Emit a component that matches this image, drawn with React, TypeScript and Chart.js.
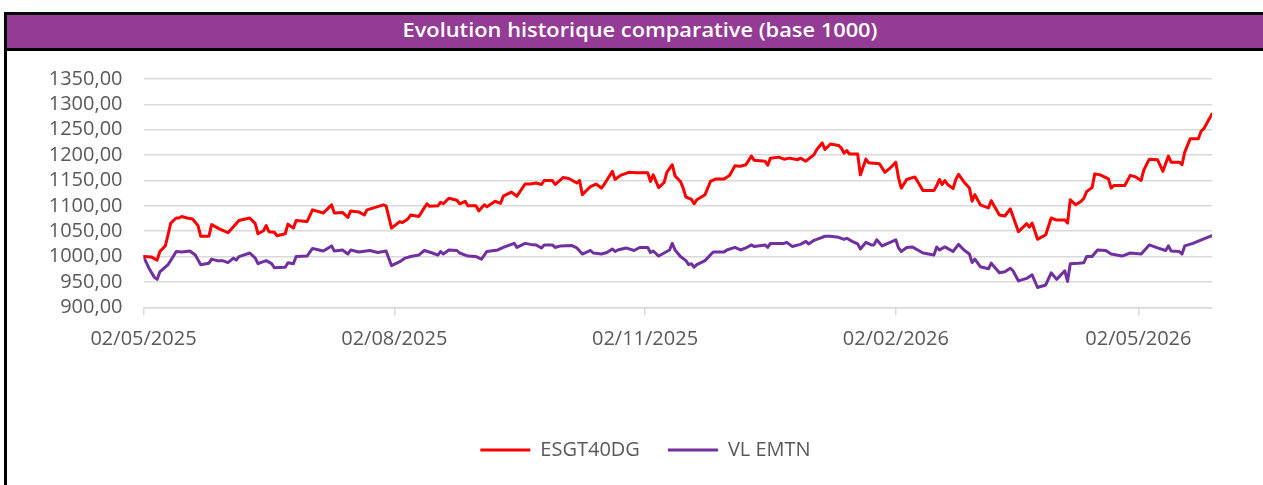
import React, { useEffect, useRef } from "react";
import { Chart, registerables } from "chart.js";

Chart.register(...registerables);

const TITLE = "Evolution historique comparative (base 1000)";
const seriesNames = ["ESGT40DG", "VL EMTN"];

// x axis: days since 02/05/2025
const axisMaxDay = 392;
const tickDays = [0, 92, 184, 276, 365];
const tickLabels = ["02/05/2025", "02/08/2025", "02/11/2025", "02/02/2026", "02/05/2026"];

const yTicksMin = 900;
const yTicksMax = 1350;
const yTicksStep = 50;

const esgDays = [0, 3, 5, 6, 8, 9, 10, 12, 13, 14, 16, 18, 20, 21, 24, 25, 28, 31, 33, 35, 39, 41, 42, 44, 45, 46, 48, 49, 52, 53, 55, 56, 60, 62, 66, 69, 70, 73, 75, 76, 79, 81, 82, 85, 88, 89, 91, 94, 95, 97, 98, 101, 103, 104, 105, 108, 109, 110, 112, 115, 116, 118, 119, 122, 123, 125, 126, 129, 131, 132, 135, 137, 140, 142, 144, 146, 147, 150, 151, 154, 156, 159, 160, 161, 164, 166, 168, 169, 172, 173, 175, 178, 181, 185, 186, 187, 189, 191, 192, 194, 195, 197, 198, 199, 201, 202, 203, 206, 208, 210, 213, 215, 217, 219, 221, 223, 224, 228, 229, 230, 233, 235, 237, 240, 241, 243, 246, 247, 249, 250, 252, 255, 256, 257, 258, 259, 262, 263, 265, 266, 270, 272, 274, 276, 277, 278, 280, 283, 284, 286, 290, 291, 292, 293, 294, 295, 297, 298, 299, 301, 303, 304, 305, 307, 310, 311, 314, 316, 318, 321, 324, 325, 326, 328, 331, 333, 335, 338, 339, 340, 342, 344, 345, 346, 348, 349, 351, 354, 355, 356, 360, 362, 364, 366, 367, 369, 372, 374, 376, 377, 380, 381, 382, 384, 387, 388, 389, 392];
const esgValues = [1000, 999, 993, 1010, 1021, 1043, 1066, 1076, 1076, 1079, 1076, 1074, 1061, 1040, 1040, 1063, 1054, 1047, 1059, 1071, 1076, 1065, 1045, 1051, 1061, 1049, 1048, 1041, 1045, 1064, 1056, 1071, 1069, 1092, 1086, 1102, 1086, 1087, 1077, 1090, 1088, 1082, 1092, 1097, 1102, 1100, 1056, 1069, 1067, 1074, 1082, 1079, 1096, 1104, 1099, 1100, 1107, 1104, 1115, 1111, 1104, 1109, 1100, 1100, 1090, 1102, 1098, 1109, 1105, 1119, 1127, 1119, 1143, 1143, 1145, 1142, 1150, 1150, 1142, 1156, 1154, 1145, 1150, 1122, 1138, 1143, 1135, 1142, 1168, 1152, 1160, 1166, 1165, 1165, 1148, 1161, 1136, 1146, 1166, 1181, 1159, 1148, 1135, 1117, 1113, 1104, 1112, 1122, 1148, 1153, 1153, 1160, 1179, 1178, 1181, 1198, 1190, 1188, 1180, 1194, 1196, 1192, 1194, 1191, 1194, 1188, 1201, 1211, 1224, 1211, 1222, 1219, 1214, 1204, 1209, 1202, 1202, 1161, 1192, 1185, 1183, 1166, 1175, 1186, 1155, 1135, 1152, 1157, 1148, 1130, 1130, 1140, 1152, 1142, 1150, 1142, 1134, 1152, 1162, 1147, 1135, 1109, 1122, 1102, 1096, 1110, 1082, 1080, 1094, 1049, 1065, 1058, 1066, 1034, 1043, 1076, 1072, 1072, 1066, 1112, 1102, 1109, 1115, 1128, 1136, 1163, 1161, 1153, 1135, 1140, 1140, 1160, 1157, 1150, 1171, 1192, 1191, 1168, 1198, 1186, 1186, 1181, 1206, 1232, 1232, 1247, 1252, 1281];

const vlDays = [0, 2, 4, 5, 6, 9, 11, 12, 14, 17, 19, 21, 24, 25, 27, 29, 31, 33, 34, 35, 39, 41, 42, 45, 47, 48, 52, 53, 55, 56, 60, 62, 66, 69, 70, 73, 75, 76, 79, 83, 86, 89, 91, 94, 96, 98, 101, 103, 106, 108, 109, 110, 112, 115, 116, 119, 122, 124, 126, 130, 132, 136, 137, 140, 142, 144, 146, 147, 150, 151, 153, 157, 159, 161, 164, 165, 168, 170, 172, 173, 174, 177, 180, 182, 185, 186, 187, 189, 191, 193, 194, 195, 197, 199, 200, 201, 202, 203, 206, 209, 213, 214, 217, 219, 221, 223, 224, 228, 229, 230, 235, 236, 238, 241, 243, 244, 246, 248, 250, 252, 255, 257, 258, 260, 262, 263, 265, 267, 268, 269, 271, 276, 277, 278, 280, 282, 286, 290, 291, 292, 294, 297, 299, 301, 303, 304, 305, 307, 310, 311, 314, 316, 318, 319, 321, 324, 326, 328, 331, 333, 335, 338, 339, 340, 343, 345, 346, 348, 350, 353, 355, 359, 362, 366, 369, 372, 375, 376, 377, 380, 381, 382, 385, 389, 392];
const vlValues = [1000, 977, 959, 955, 970, 984, 1001, 1010, 1009, 1011, 1003, 984, 987, 995, 992, 992, 988, 997, 993, 1000, 1007, 997, 986, 992, 986, 978, 979, 988, 986, 1000, 1001, 1016, 1011, 1021, 1011, 1013, 1005, 1013, 1009, 1012, 1008, 1011, 982, 990, 997, 1000, 1003, 1012, 1007, 1003, 1010, 1005, 1013, 1012, 1007, 1001, 1000, 995, 1010, 1013, 1018, 1026, 1018, 1026, 1024, 1023, 1017, 1023, 1023, 1018, 1021, 1022, 1017, 1005, 1012, 1007, 1005, 1008, 1015, 1010, 1013, 1017, 1012, 1018, 1018, 1008, 1011, 1001, 1007, 1013, 1026, 1013, 1000, 992, 984, 986, 979, 984, 992, 1009, 1009, 1013, 1018, 1013, 1017, 1023, 1020, 1023, 1018, 1026, 1026, 1028, 1020, 1024, 1030, 1025, 1032, 1036, 1040, 1040, 1038, 1034, 1036, 1030, 1025, 1015, 1028, 1023, 1023, 1033, 1021, 1033, 1017, 1010, 1018, 1019, 1007, 1003, 1019, 1013, 1019, 1010, 1024, 1013, 1005, 988, 995, 980, 976, 987, 968, 970, 977, 972, 952, 957, 964, 939, 944, 968, 955, 972, 951, 986, 987, 988, 1000, 1000, 1013, 1012, 1005, 1001, 1007, 1005, 1023, 1017, 1012, 1021, 1011, 1010, 1005, 1021, 1026, 1035, 1041];

const FONT = '"Open Sans", "DejaVu Sans", sans-serif';
const TEXT_COLOR = "#595959";
const GRID_COLOR = "#D9D9D9";

function measureText(text: string, font: string): number {
  const c = document.createElement("canvas").getContext("2d");
  if (!c) return 1;
  c.font = font;
  return c.measureText(text).width || 1;
}

export default function App() {
  const canvasRef = useRef<HTMLCanvasElement>(null);

  useEffect(() => {
    if (!canvasRef.current) return;
    const chart = new Chart(canvasRef.current, {
      type: "line",
      data: {
        datasets: [
          {
            label: seriesNames[0],
            data: esgDays.map((d, i) => ({ x: d, y: esgValues[i] })),
            borderColor: "#FF0000",
            backgroundColor: "#FF0000",
            borderWidth: 3,
            pointRadius: 0,
            tension: 0,
            borderJoinStyle: "round",
            borderCapStyle: "round",
          },
          {
            label: seriesNames[1],
            data: vlDays.map((d, i) => ({ x: d, y: vlValues[i] })),
            borderColor: "#7030A0",
            backgroundColor: "#7030A0",
            borderWidth: 3,
            pointRadius: 0,
            tension: 0,
            borderJoinStyle: "round",
            borderCapStyle: "round",
          },
        ],
      },
      options: {
        responsive: false,
        animation: false,
        events: [],
        layout: { padding: { top: 28, left: 0, right: 0, bottom: 15 } },
        plugins: {
          tooltip: { enabled: false },
          legend: {
            position: "bottom",
            labels: {
              boxWidth: 50,
              boxHeight: 3,
              padding: 28,
              color: TEXT_COLOR,
              font: { family: FONT, size: 20 },
              generateLabels: (ch: any) => {
                const items = Chart.defaults.plugins.legend.labels.generateLabels(ch);
                return items.map((it: any) => ({
                  ...it,
                  fillStyle: it.strokeStyle,
                  lineWidth: 0,
                }));
              },
            },
          },
        },
        scales: {
          x: {
            type: "linear",
            min: 0,
            max: axisMaxDay,
            afterBuildTicks: (scale: any) => {
              scale.ticks = tickDays.map((v) => ({ value: v }));
            },
            afterFit: (scale: any) => {
              scale.height = 104.7;
            },
            ticks: {
              autoSkip: false,
              maxRotation: 0,
              padding: 12,
              color: TEXT_COLOR,
              font: { family: FONT, size: 20 },
              callback: (value: any) => {
                const i = tickDays.indexOf(Number(value));
                return i >= 0 ? tickLabels[i] : "";
              },
            },
            grid: {
              drawOnChartArea: false,
              drawTicks: true,
              tickLength: 8,
              color: GRID_COLOR,
              lineWidth: 1.5,
            },
            border: { display: true, color: GRID_COLOR, width: 1.5 },
          },
          y: {
            min: yTicksMin,
            max: yTicksMax,
            afterFit: (scale: any) => {
              scale.width = 136.5;
            },
            ticks: {
              stepSize: yTicksStep,
              autoSkip: false,
              padding: 0,
              color: TEXT_COLOR,
              font: { family: FONT, size: 20 },
              callback: (v: any) => Number(v).toFixed(2).replace(".", ","),
            },
            grid: {
              color: GRID_COLOR,
              lineWidth: 1.5,
              drawTicks: true,
              tickLength: 21,
              tickColor: "rgba(0,0,0,0)",
            },
            border: { display: false },
          },
          yRight: {
            position: "right",
            min: 0,
            max: 1,
            afterFit: (scale: any) => {
              scale.width = 72;
            },
            ticks: { display: false },
            grid: { display: false },
            border: { display: false },
          },
        },
      },
    } as any);
    return () => chart.destroy();
  }, []);

  const titleFont = `600 19px ${FONT}`;
  const titleScale = 475 / measureText(TITLE, titleFont);

  return (
    <div style={{ position: "fixed", inset: 0, overflow: "hidden", background: "#fff" }}>
      <div
        style={{
          position: "absolute",
          left: 4,
          top: 12,
          width: 1300,
          height: 520,
          borderLeft: "3px solid #000",
          borderTop: "3px solid #000",
          boxSizing: "border-box",
        }}
      >
        <div
          style={{
            position: "relative",
            height: 33,
            background: "#943B96",
            borderBottom: "3px solid #000",
          }}
        >
          <span
            style={{
              position: "absolute",
              left: 633,
              top: 2,
              lineHeight: "33px",
              whiteSpace: "nowrap",
              color: "#fff",
              font: titleFont,
              transform: `translateX(-50%) scaleX(${titleScale})`,
            }}
          >
            {TITLE}
          </span>
        </div>
        <canvas ref={canvasRef} width={1277} height={434} style={{ display: "block", width: 1277, height: 434 }} />
      </div>
    </div>
  );
}
